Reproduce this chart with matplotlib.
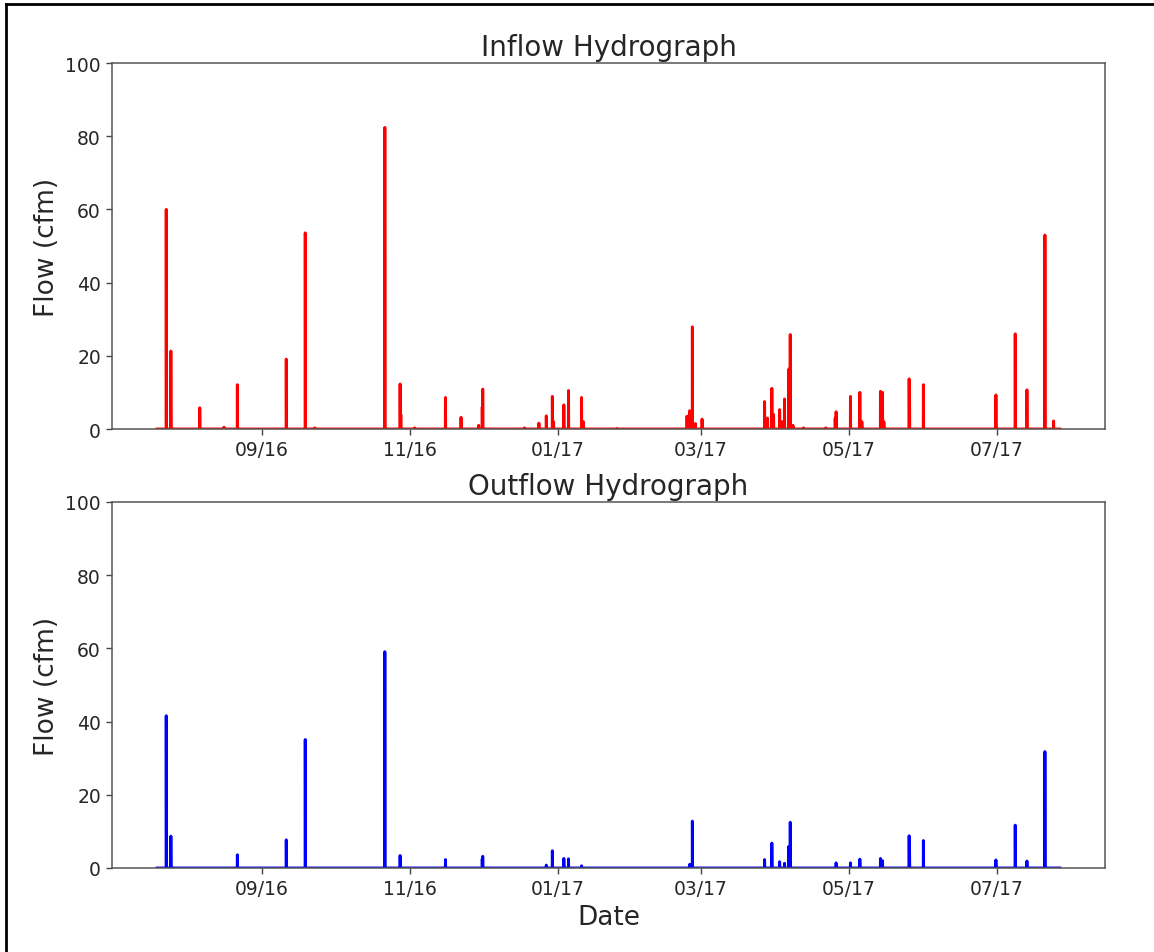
import matplotlib
matplotlib.use("Agg")
import matplotlib.pyplot as plt
import matplotlib.dates as mdates
from matplotlib.lines import Line2D
import pandas as pd

# ---- data ----
record_start = "2016-07-19 18:00"
record_end = "2017-07-27 02:00"

inflow_times = [
    "2016-07-23 12:00", "2016-07-25 10:00", "2016-08-06 08:00", "2016-08-16 08:00",
    "2016-08-21 20:00", "2016-09-11 00:00", "2016-09-18 20:00", "2016-09-22 19:00",
    "2016-10-21 16:00", "2016-10-27 23:00", "2016-10-28 06:00", "2016-11-03 00:00",
    "2016-11-15 16:00", "2016-11-22 02:00", "2016-11-29 09:00", "2016-11-30 20:00",
    "2016-12-01 01:00", "2016-12-18 07:00", "2016-12-24 05:00", "2016-12-27 06:00",
    "2016-12-29 18:00", "2016-12-30 06:00", "2017-01-03 12:00", "2017-01-05 10:00",
    "2017-01-10 19:00", "2017-01-11 12:00", "2017-01-25 12:00", "2017-02-23 07:00",
    "2017-02-24 10:00", "2017-02-25 12:00", "2017-02-26 18:00", "2017-03-01 12:00",
    "2017-03-27 07:00", "2017-03-28 12:00", "2017-03-30 07:00", "2017-03-31 00:00",
    "2017-04-02 12:00", "2017-04-03 11:00", "2017-04-04 12:00", "2017-04-06 07:00",
    "2017-04-06 21:00", "2017-04-08 00:00", "2017-04-12 08:00", "2017-04-21 14:00",
    "2017-04-25 10:00", "2017-04-25 19:00", "2017-05-01 17:00", "2017-05-05 14:00",
    "2017-05-06 10:00", "2017-05-14 02:00", "2017-05-14 22:00", "2017-05-15 12:00",
    "2017-05-25 22:00", "2017-05-26 02:00", "2017-05-31 19:00", "2017-06-30 17:00",
    "2017-07-08 16:00", "2017-07-13 12:00", "2017-07-20 22:00", "2017-07-24 12:00",
]
inflow_values = [
    60.0, 21.3, 5.8, 0.5,
    12.1, 19.1, 53.6, 0.3,
    82.4, 12.3, 4.0, 0.3,
    8.6, 3.2, 1.0, 6.0,
    10.9, 0.3, 1.6, 3.6,
    8.9, 2.0, 6.6, 10.5,
    8.6, 2.0, 0.1, 3.5,
    5.0, 27.9, 1.5, 2.7,
    7.5, 3.0, 11.1, 4.0,
    5.3, 2.0, 8.2, 16.4,
    25.8, 1.0, 0.3, 0.3,
    3.0, 4.7, 8.9, 10.0,
    2.0, 10.3, 10.0, 2.0,
    13.7, 9.0, 12.1, 9.3,
    26.0, 10.7, 53.0, 2.2,
]

outflow_times = [
    "2016-07-23 12:00", "2016-07-25 10:00", "2016-08-21 20:00", "2016-09-11 00:00",
    "2016-09-18 20:00", "2016-10-21 16:00", "2016-10-27 23:00", "2016-11-15 16:00",
    "2016-11-30 20:00", "2016-12-01 01:00", "2016-12-27 06:00", "2016-12-29 18:00",
    "2017-01-03 12:00", "2017-01-05 10:00", "2017-01-10 19:00", "2017-02-24 10:00",
    "2017-02-25 12:00", "2017-03-27 07:00", "2017-03-30 07:00", "2017-04-02 12:00",
    "2017-04-04 12:00", "2017-04-06 07:00", "2017-04-06 21:00", "2017-04-25 19:00",
    "2017-05-01 17:00", "2017-05-05 14:00", "2017-05-14 02:00", "2017-05-14 22:00",
    "2017-05-25 22:00", "2017-05-26 02:00", "2017-05-31 19:00", "2017-06-30 17:00",
    "2017-07-08 16:00", "2017-07-13 12:00", "2017-07-20 22:00",
]
outflow_values = [
    41.6, 8.7, 3.6, 7.7,
    35.1, 59.1, 3.4, 2.3,
    2.5, 3.2, 0.8, 4.7,
    2.6, 2.5, 0.6, 1.0,
    12.8, 2.3, 6.8, 1.7,
    1.3, 5.9, 12.5, 1.4,
    1.4, 2.4, 2.6, 2.0,
    8.8, 5.0, 7.5, 2.2,
    11.7, 1.9, 31.8,
]

y_ticks = [0, 20, 40, 60, 80, 100]


def build_series(times, values):
    idx = pd.date_range(record_start, record_end, freq="h")
    s = pd.Series(0.0, index=idx)
    s.loc[pd.to_datetime(times).round("h")] = values
    return s


inflow = build_series(inflow_times, inflow_values)
outflow = build_series(outflow_times, outflow_values)

W, H = 1154, 953
fig = plt.figure(figsize=(W / 100, H / 100), dpi=100)

left = 112 / W
width = (1105 - 112) / W
ax1 = fig.add_axes([left, 1 - 430 / H, width, (430 - 64) / H])
ax2 = fig.add_axes([left, 1 - 869 / H, width, (869 - 503) / H])

text_col = "#262626"
for ax, s, color, title in [
    (ax1, inflow, "red", "Inflow Hydrograph"),
    (ax2, outflow, "blue", "Outflow Hydrograph"),
]:
    ax.plot(s.index, s.values, color=color, linewidth=2.1)
    ax.set_ylim(0, 100)
    ax.set_yticks(y_ticks)
    ax.set_title(title, fontsize=20, pad=6, color=text_col)
    ax.set_ylabel("Flow (cfm)", fontsize=19, color=text_col)
    ax.xaxis.set_major_locator(mdates.MonthLocator(bymonth=[1, 3, 5, 7, 9, 11]))
    ax.xaxis.set_major_formatter(mdates.DateFormatter("%m/%y"))
    ax.tick_params(labelsize=13.5, length=4.5, width=1.0, color="#444444",
                   labelcolor=text_col)
    for sp in ax.spines.values():
        sp.set_linewidth(1.1)
        sp.set_color("#555555")

ax2.set_xlabel("Date", fontsize=19, color=text_col)

# page border
fig.add_artist(Line2D([6 / W, 1.0], [1 - 5 / H, 1 - 5 / H], color="black",
                      linewidth=2, transform=fig.transFigure))
fig.add_artist(Line2D([6 / W, 6 / W], [0.0, 1 - 5 / H], color="black",
                      linewidth=2, transform=fig.transFigure))

fig.savefig("out.png", dpi=100)
